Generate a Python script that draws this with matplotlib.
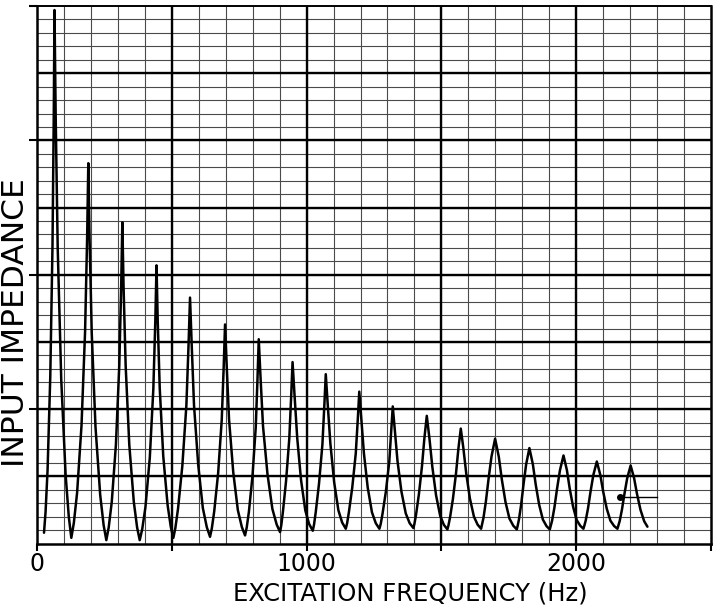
import matplotlib
matplotlib.use("Agg")
import matplotlib.pyplot as plt
import numpy as np

# Trace (frequency in Hz, impedance in chart divisions)
freq_hz = [
    26.0,
    31.8, 39.2, 49.3, 57.5, 62.2, 64.9, 69.3, 76.8, 89.9, 106.1, 117.9, 127.3,
    136.7, 148.7, 165.1, 178.3, 185.9, 190.3, 195.0, 203.0, 217.0, 234.4, 247.1, 257.1,
    266.0, 277.3, 292.7, 305.2, 312.3, 316.5, 321.0, 328.8, 342.3, 359.1, 371.3, 381.0,
    390.3, 402.2, 418.4, 431.5, 438.9, 443.3, 447.7, 455.2, 468.3, 484.5, 496.3, 505.7,
    513.1, 523.0, 539.1, 554.0, 562.0, 567.6, 573.9, 582.4, 598.0, 615.1, 629.9, 641.8,
    648.5, 657.4, 671.9, 685.2, 692.5, 697.5, 703.8, 712.3, 727.9, 745.0, 759.8, 771.7,
    777.8, 785.9, 799.1, 811.3, 817.9, 822.5, 829.2, 838.3, 854.9, 873.1, 888.9, 901.5,
    906.1, 912.2, 923.8, 935.8, 942.8, 947.9, 955.4, 965.2, 979.4, 995.2, 1009.4, 1022.9,
    1027.7, 1034.0, 1046.0, 1058.6, 1065.8, 1071.1, 1078.5, 1088.2, 1102.3, 1117.8, 1131.9, 1145.3,
    1150.3, 1156.8, 1169.3, 1182.4, 1189.9, 1195.4, 1202.9, 1212.6, 1226.7, 1242.4, 1256.6, 1270.0,
    1275.0, 1281.4, 1293.8, 1306.7, 1314.1, 1319.6, 1327.3, 1337.2, 1351.7, 1367.8, 1382.3, 1396.1,
    1400.1, 1406.0, 1416.5, 1427.9, 1436.9, 1445.8, 1455.7, 1466.4, 1480.2, 1495.5, 1509.2, 1522.2,
    1526.2, 1532.1, 1542.6, 1554.0, 1563.0, 1571.9, 1581.7, 1592.2, 1605.8, 1620.8, 1634.4, 1647.2,
    1650.3, 1656.0, 1664.9, 1674.8, 1685.7, 1699.2, 1712.9, 1724.2, 1737.8, 1752.3, 1766.8, 1779.7,
    1782.5, 1787.6, 1795.6, 1804.5, 1814.3, 1826.4, 1839.3, 1849.9, 1862.7, 1876.4, 1890.0, 1902.1,
    1905.1, 1910.7, 1919.4, 1929.0, 1939.7, 1952.9, 1965.5, 1975.8, 1988.4, 2001.7, 2015.0, 2026.8,
    2029.8, 2035.2, 2043.7, 2053.1, 2063.6, 2076.5, 2089.5, 2100.2, 2113.2, 2126.9, 2140.7, 2152.9,
    2155.8, 2161.2, 2169.6, 2178.9, 2189.2, 2201.9, 2214.8, 2225.5, 2238.4, 2252.1, 2264.2,
]
impedance = [
    0.80,
    2.36, 5.47, 12.47, 22.2, 31.9, 39.7, 31.8, 22.0, 12.2, 5.13, 1.99, 0.42,
    1.54, 3.77, 8.78, 15.75, 22.72, 28.3, 22.69, 15.68, 8.67, 3.62, 1.37, 0.25,
    1.20, 3.09, 7.35, 13.25, 19.17, 23.9, 19.17, 13.25, 7.35, 3.09, 1.20, 0.25,
    1.07, 2.70, 6.39, 11.50, 16.61, 20.7, 16.64, 11.57, 6.50, 2.85, 1.23, 0.42,
    1.14, 2.57, 5.78, 10.25, 14.72, 18.3, 14.74, 10.29, 5.84, 2.64, 1.21, 0.50,
    1.13, 2.40, 5.24, 9.19, 13.14, 16.3, 13.16, 9.24, 5.31, 2.48, 1.23, 0.60,
    1.18, 2.35, 4.98, 8.63, 12.28, 15.2, 12.33, 8.74, 5.16, 2.57, 1.42, 0.85,
    1.36, 2.37, 4.65, 7.81, 10.97, 13.5, 10.99, 7.85, 4.72, 2.46, 1.45, 0.95,
    1.42, 2.35, 4.45, 7.36, 10.27, 12.6, 10.30, 7.43, 4.55, 2.48, 1.56, 1.10,
    1.51, 2.32, 4.16, 6.71, 9.26, 11.3, 9.26, 6.71, 4.16, 2.32, 1.51, 1.10,
    1.46, 2.19, 3.83, 6.10, 8.38, 10.2, 8.39, 6.13, 3.87, 2.24, 1.51, 1.15,
    1.48, 2.15, 3.66, 5.74, 7.83, 9.5, 7.81, 5.70, 3.59, 2.06, 1.39, 1.05,
    1.35, 1.95, 3.30, 5.18, 7.05, 8.55, 7.06, 5.20, 3.34, 1.99, 1.40, 1.10,
    1.37, 1.90, 3.11, 4.79, 6.46, 7.8, 6.45, 4.76, 3.08, 1.86, 1.32, 1.05,
    1.29, 1.78, 2.87, 4.38, 5.89, 7.1, 5.89, 4.38, 2.87, 1.78, 1.29, 1.05,
    1.27, 1.71, 2.70, 4.08, 5.45, 6.55, 5.46, 4.10, 2.74, 1.75, 1.32, 1.10,
    1.30, 1.70, 2.60, 3.85, 5.10, 6.1, 5.10, 3.85, 2.60, 1.70, 1.30, 1.10,
    1.29, 1.66, 2.51, 3.69, 4.86, 5.8, 4.86, 3.69, 2.51, 1.66, 1.25,
]

# small hand-drawn marker near the last peak
marker_freq = [2161, 2300]
marker_level = [3.46, 3.46]

x_tick_values = [0, 500, 1000, 1500, 2000, 2500]
x_tick_labels = ["0", "", "1000", "", "2000", ""]
y_tick_values = [10, 20, 30, 40]
x_label = "EXCITATION FREQUENCY (Hz)"
y_label = "INPUT IMPEDANCE"

fig = plt.figure(figsize=(7.14, 6.07), dpi=100)
fig.patch.set_facecolor("white")
ax = fig.add_axes([37 / 714, 63.5 / 607, 674 / 714, 537.5 / 607])
ax.set_xlim(0, 2500)
ax.set_ylim(0, 40)

# graph-paper grid
ax.vlines(np.arange(100, 2500, 100), 0, 40, colors="#4a4a4a", lw=0.8, zorder=1)
ax.vlines(np.arange(500, 2500, 500), 0, 40, colors="black", lw=1.7, zorder=1.5)
ax.hlines(np.arange(1, 40, 1), 0, 2500, colors="#4a4a4a", lw=0.8, zorder=1)
ax.hlines(np.arange(5, 40, 5), 0, 2500, colors="black", lw=1.7, zorder=1.5)

ax.plot(freq_hz, impedance, color="black", lw=1.8, zorder=3,
        solid_joinstyle="round", solid_capstyle="round")
ax.plot(marker_freq, marker_level, color="black", lw=1.0, zorder=3)
ax.plot(marker_freq[:1], marker_level[:1], "o", color="black", ms=4, zorder=3)

ax.set_xticks(x_tick_values, x_tick_labels)
ax.set_yticks(y_tick_values, [""] * len(y_tick_values))
ax.tick_params(axis="x", length=5, width=1.5, direction="out", pad=1,
               labelsize=17, colors="black")
ax.tick_params(axis="y", length=6, width=1.5, direction="out")
for side in ["left", "bottom", "right", "top"]:
    ax.spines[side].set_linewidth(1.8)
    ax.spines[side].set_color("black")
ax.spines["top"].set_linewidth(1.4)

fig.text(410 / 714, 6.5 / 607, x_label, ha="center", va="baseline", fontsize=17.5)
fig.text(16 / 714, (607 - 323) / 607, y_label, rotation=90, ha="center",
         va="center", fontsize=22.5)

fig.savefig("out.png", dpi=100)
